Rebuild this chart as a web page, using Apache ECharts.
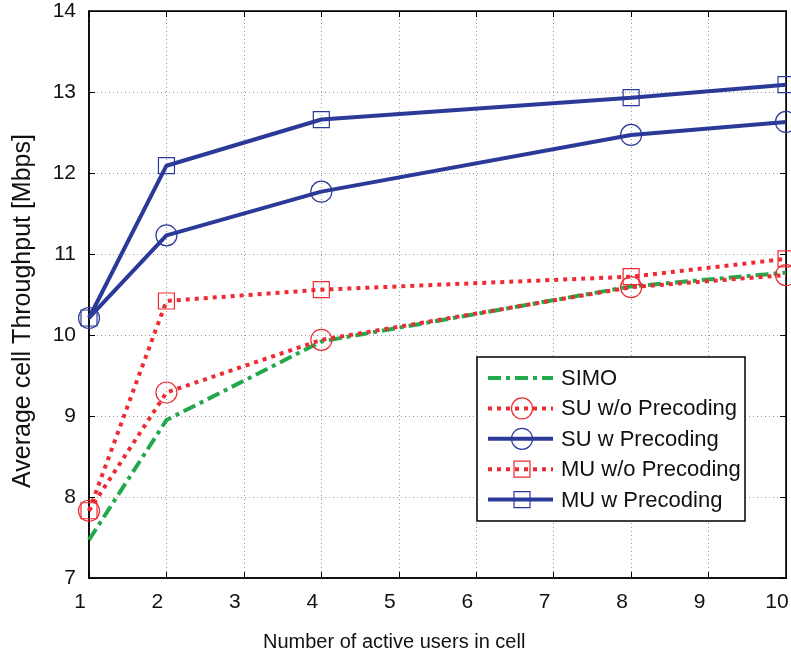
<!DOCTYPE html>
<html><head><meta charset="utf-8">
<script src="https://cdn.jsdelivr.net/npm/echarts@6/dist/echarts.min.js"></script>
<style>html,body{margin:0;padding:0;background:#fff}#c{width:791px;height:658px}</style>
</head><body><div id="c"></div>
<script>
const xValues = [1, 2, 4, 8, 10];
const simo = [7.47, 8.95, 9.92, 10.6, 10.77];
const suWo = [7.83, 9.29, 9.94, 10.59, 10.74];
const suW = [10.21, 11.23, 11.77, 12.47, 12.63];
const muWo = [7.83, 10.42, 10.56, 10.72, 10.94];
const muW = [10.21, 12.09, 12.66, 12.93, 13.09];
const seriesNames = ['SIMO', 'SU w/o Precoding', 'SU w Precoding', 'MU w/o Precoding', 'MU w Precoding'];
const xTitle = 'Number of active users in cell';
const yTitle = 'Average cell Throughput [Mbps]';

const BLUE = '#2b3a98', RED = '#ee2b33', GREEN = '#21a94b';
const FONT = 'Liberation Sans';
const styles = [
  {color: GREEN, width: 4, dash: [13,5,4,5], symbol: null},
  {color: RED, width: 4, dash: [4,5], symbol: 'circle'},
  {color: BLUE, width: 4, dash: 'solid', symbol: 'circle'},
  {color: RED, width: 4, dash: [4,5], symbol: 'rect'},
  {color: BLUE, width: 4, dash: 'solid', symbol: 'rect'}
];
const dataSets = [simo, suWo, suW, muWo, muW];
function pts(arr){ return xValues.map((x,i)=>[x, arr[i]]); }
const series = dataSets.map((d, i) => {
  const s = styles[i];
  return {
    name: seriesNames[i], type:'line', data: pts(d),
    symbol: s.symbol || 'none', symbolSize: s.symbol==='rect' ? 16 : 21,
    showSymbol: !!s.symbol,
    itemStyle:{color:'rgba(0,0,0,0)', borderColor: s.color, borderWidth: 1.2},
    lineStyle:{color: s.color, width: s.width, type: s.dash},
    emphasis:{disabled:true}, animation:false, z: 3
  };
});

// legend drawn as graphic
const LX = 477, LY = 357, LW = 268, LH = 164;
const legendGraphics = [{
  type:'rect', shape:{x:LX, y:LY, width:LW, height:LH},
  style:{fill:'#fff', stroke:'#000', lineWidth:1.5}, z:10
}];
seriesNames.forEach((name, i) => {
  const s = styles[i];
  const cy = 378 + i * 30.4;
  legendGraphics.push({
    type:'line', shape:{x1:488, y1:cy, x2:553, y2:cy},
    style:{stroke:s.color, lineWidth:s.width, lineDash: s.dash==='solid' ? null : s.dash}, z:11
  });
  if (s.symbol === 'circle') {
    legendGraphics.push({type:'circle', shape:{cx:522, cy:cy, r:10.5},
      style:{fill:'none', stroke:s.color, lineWidth:1.2}, z:12});
  } else if (s.symbol === 'rect') {
    legendGraphics.push({type:'rect', shape:{x:514, y:cy-8, width:16, height:16},
      style:{fill:'none', stroke:s.color, lineWidth:1.2}, z:12});
  }
  legendGraphics.push({
    type:'text', x:561, y:cy+1,
    style:{text:name, fill:'#111', font:'22px "Liberation Sans"', textAlign:'left', textVerticalAlign:'middle', verticalAlign:'middle'}, z:12
  });
});

const chart = echarts.init(document.getElementById('c'), null, {renderer:'canvas'});
chart.setOption({
  backgroundColor:'#fff',
  animation:false,
  grid:{left:89, right:5, top:11, bottom:80, show:true, borderColor:'#000', borderWidth:1.5, outerBoundsMode:'none', containLabel:false},
  xAxis:[{
    type:'value', min:1, max:10, interval:1,
    axisLine:{lineStyle:{color:'#000', width:1.5}},
    axisTick:{inside:true, length:6, lineStyle:{color:'#000'}},
    axisLabel:{fontFamily:FONT, fontSize:21, color:'#111', margin:14, padding:[0,18,0,0]},
    splitLine:{show:true, lineStyle:{color:'#999', type:[1,3], width:1}}
  },{
    type:'value', position:'top', min:1, max:10, interval:1,
    axisLine:{lineStyle:{color:'#000'}}, axisTick:{inside:true, length:6, lineStyle:{color:'#000'}},
    axisLabel:{show:false}, splitLine:{show:false}
  }],
  yAxis:[{
    type:'value', min:7, max:14, interval:1,
    axisLine:{lineStyle:{color:'#000', width:1.5}},
    axisTick:{inside:true, length:6, lineStyle:{color:'#000'}},
    axisLabel:{fontFamily:FONT, fontSize:21, color:'#111', margin:13},
    splitLine:{show:true, lineStyle:{color:'#999', type:[1,3], width:1}}
  },{
    type:'value', position:'right', min:7, max:14, interval:1,
    axisLine:{lineStyle:{color:'#000'}}, axisTick:{inside:true, length:6, lineStyle:{color:'#000'}},
    axisLabel:{show:false}, splitLine:{show:false}
  }],
  graphic: legendGraphics.concat([
    {type:'text', x:263, y:642, style:{text:xTitle, fill:'#111', font:'20px "Liberation Sans"', textAlign:'left', verticalAlign:'middle', textVerticalAlign:'middle'}},
    {type:'text', x:23, y:311, rotation:Math.PI/2, style:{text:yTitle, fill:'#111', font:'25px "Liberation Sans"', textAlign:'center', verticalAlign:'middle', textVerticalAlign:'middle'}}
  ]),
  series
});
</script></body></html>
